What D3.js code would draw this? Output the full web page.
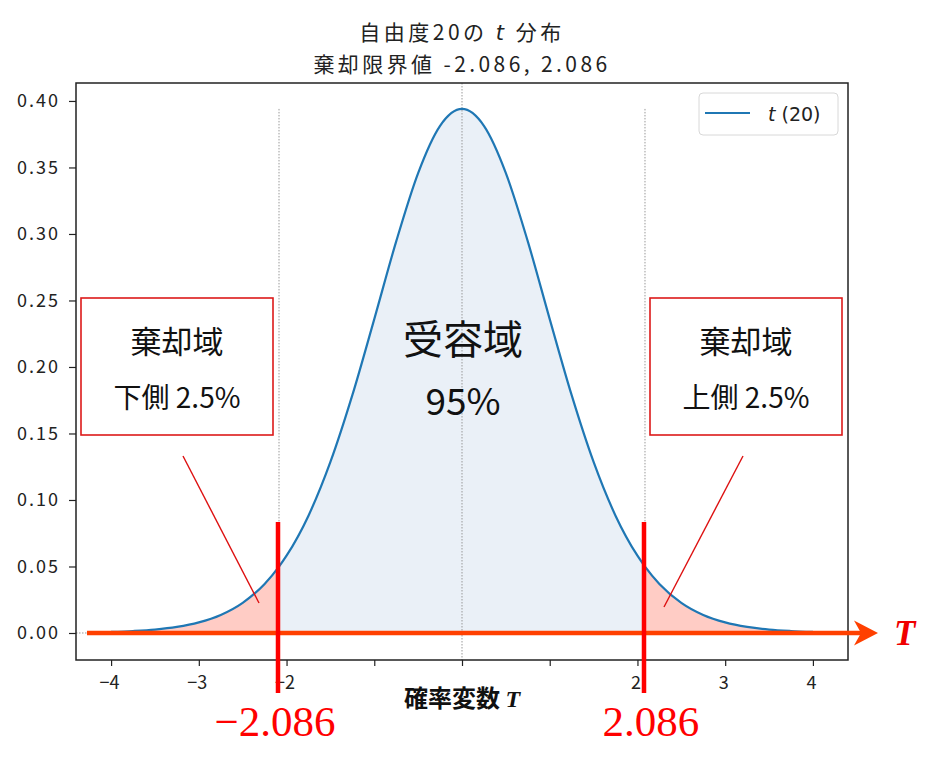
<!DOCTYPE html>
<html>
<head>
<meta charset="utf-8">
<script src="https://cdn.jsdelivr.net/npm/d3@7"></script>
<style>
  body { margin: 0; background: #fff; }
</style>
</head>
<body>
<script>
let w = 934;
let h = 776;

// t(20) density
let tValues = [-4, -3.75, -3.5, -3.25, -3, -2.75, -2.5, -2.25, -2.086, -2, -1.75, -1.5, -1.25, -1,
  -0.75, -0.5, -0.25, 0, 0.25, 0.5, 0.75, 1, 1.25, 1.5, 1.75, 2, 2.086, 2.25, 2.5, 2.75, 3,
  3.25, 3.5, 3.75, 4];
let density = [0.0008, 0.0015, 0.0026, 0.0046, 0.0080, 0.0136, 0.0227, 0.0369, 0.0499, 0.0581,
  0.0882, 0.1286, 0.1788, 0.2360, 0.2944, 0.3458, 0.3813, 0.3940, 0.3813, 0.3458, 0.2944,
  0.2360, 0.1788, 0.1286, 0.0882, 0.0581, 0.0499, 0.0369, 0.0227, 0.0136, 0.0080, 0.0046,
  0.0026, 0.0015, 0.0008];
let critical = [-2.086, 2.086];
let xTicks = [-4, -3, -2, -1, 0, 1, 2, 3, 4];
let xTickLabels = ['−4', '−3', '−2', '', '', '', '2', '3', '4'];
let yTicks = [0, 0.05, 0.10, 0.15, 0.20, 0.25, 0.30, 0.35, 0.40];
let yTickLabels = ['0.00', '0.05', '0.10', '0.15', '0.20', '0.25', '0.30', '0.35', '0.40'];

let data = tValues.map((t, i) => [t, density[i]]);

let plotLeft = 76, plotRight = 848, plotTop = 83, plotBottom = 660;
let jpFont = '"Noto Sans CJK JP", "Noto Sans", sans-serif';
let serifFont = '"Liberation Serif", "DejaVu Serif", serif';

let xScale = d3.scaleLinear().domain([-4.4, 4.4]).range([plotLeft, plotRight]);
let yScale = d3.scaleLinear().domain([-0.0203, 0.4135]).range([plotBottom, plotTop]);

let svg = d3.select('body').append('svg')
  .attr('width', w)
  .attr('height', h)
  .attr('font-family', jpFont);

// title
svg.append('text')
  .attr('x', 462).attr('y', 40)
  .attr('text-anchor', 'middle')
  .attr('font-size', 21)
  .attr('letter-spacing', 3.5)
  .attr('fill', '#222')
  .html('自由度20の <tspan font-style="italic" font-family="DejaVu Sans">t</tspan> 分布');
svg.append('text')
  .attr('x', 462).attr('y', 72)
  .attr('text-anchor', 'middle')
  .attr('font-size', 21)
  .attr('letter-spacing', 3.4)
  .attr('fill', '#222')
  .text('棄却限界値 -2.086, 2.086');

// fills
let area = d3.area()
  .x((d) => { return xScale(d[0]); })
  .y0(yScale(0))
  .y1((d) => { return yScale(d[1]); })
  .curve(d3.curveMonotoneX);

svg.append('path')
  .datum(data.filter((d) => { return d[0] >= critical[0] && d[0] <= critical[1]; }))
  .attr('d', area)
  .attr('fill', '#eaf0f7');

svg.append('path')
  .datum(data.filter((d) => { return d[0] <= critical[0]; }))
  .attr('d', area)
  .attr('fill', '#ffccc5');

svg.append('path')
  .datum(data.filter((d) => { return d[0] >= critical[1]; }))
  .attr('d', area)
  .attr('fill', '#ffccc5');

// dotted guide lines
let peak = d3.max(density);
svg.append('line')
  .attr('x1', xScale(0)).attr('x2', xScale(0))
  .attr('y1', plotTop).attr('y2', plotBottom)
  .attr('stroke', '#999').attr('stroke-width', 1).attr('stroke-dasharray', '1.5,1.5');
svg.selectAll('.crit-guide')
  .data(critical)
  .enter()
  .append('line')
  .attr('class', 'crit-guide')
  .attr('x1', (d) => { return xScale(d); })
  .attr('x2', (d) => { return xScale(d); })
  .attr('y1', yScale(peak)).attr('y2', yScale(0))
  .attr('stroke', '#999').attr('stroke-width', 1).attr('stroke-dasharray', '1.5,1.5');
svg.append('line')
  .attr('x1', plotLeft).attr('x2', plotRight)
  .attr('y1', yScale(0)).attr('y2', yScale(0))
  .attr('stroke', '#999').attr('stroke-width', 1).attr('stroke-dasharray', '1.5,1.5');

// curve
let line = d3.line()
  .x((d) => { return xScale(d[0]); })
  .y((d) => { return yScale(d[1]); })
  .curve(d3.curveMonotoneX);

svg.append('path')
  .datum(data)
  .attr('d', line)
  .attr('fill', 'none')
  .attr('stroke', '#1f77b4')
  .attr('stroke-width', 2.2);

// axes
let xAxis = d3.axisBottom(xScale)
  .tickValues(xTicks)
  .tickSize(6)
  .tickFormat((d, i) => { return xTickLabels[i]; });
let yAxis = d3.axisLeft(yScale)
  .tickValues(yTicks)
  .tickSize(7)
  .tickFormat((d, i) => { return yTickLabels[i]; });

let gx = svg.append('g')
  .attr('class', 'x axis')
  .attr('transform', 'translate(0, ' + plotBottom + ')')
  .call(xAxis);
let gy = svg.append('g')
  .attr('class', 'y axis')
  .attr('transform', 'translate(' + plotLeft + ', 0)')
  .call(yAxis);

[gx, gy].forEach((g) => {
  g.attr('font-family', jpFont).attr('font-size', 18);
  g.select('.domain').remove();
  g.selectAll('.tick line').attr('stroke', '#222').attr('stroke-width', 1.2);
  g.selectAll('.tick text').attr('fill', '#222');
});
gx.selectAll('.tick text').attr('dy', '1.1em').attr('dx', -2);
gy.selectAll('.tick text').attr('x', -16).attr('letter-spacing', 2);

// frame
svg.append('rect')
  .attr('x', plotLeft).attr('y', plotTop)
  .attr('width', plotRight - plotLeft).attr('height', plotBottom - plotTop)
  .attr('fill', 'none')
  .attr('stroke', '#222')
  .attr('stroke-width', 1.5);

// legend
let lg = svg.append('g').attr('transform', 'translate(699, 93)');
lg.append('rect')
  .attr('width', 139).attr('height', 42).attr('rx', 4)
  .attr('fill', '#fff').attr('stroke', '#d8d8d8');
lg.append('line')
  .attr('x1', 6).attr('x2', 51).attr('y1', 20).attr('y2', 20)
  .attr('stroke', '#1f77b4').attr('stroke-width', 2.2);
lg.append('text')
  .attr('x', 69).attr('y', 28)
  .attr('font-size', 19)
  .attr('font-family', '"DejaVu Sans", sans-serif')
  .attr('fill', '#222')
  .html('<tspan font-style="italic">t</tspan> (20)');

// x label
svg.append('text')
  .attr('x', 462).attr('y', 707)
  .attr('text-anchor', 'middle')
  .attr('font-size', 24)
  .attr('font-weight', 'bold')
  .attr('fill', '#111')
  .html('確率変数 <tspan font-family=\'' + serifFont + '\' font-style="italic">T</tspan>');

// T axis arrow
let arrowY = yScale(0);
svg.append('line')
  .attr('x1', 87).attr('x2', 864)
  .attr('y1', arrowY).attr('y2', arrowY)
  .attr('stroke', '#ff4000')
  .attr('stroke-width', 4.5);
svg.append('path')
  .attr('d', 'M878,' + arrowY + ' L854,' + (arrowY - 12.5) + ' L861,' + arrowY + ' L854,' + (arrowY + 12.5) + ' Z')
  .attr('fill', '#ff4000');
svg.append('text')
  .attr('x', 894).attr('y', arrowY + 12)
  .attr('font-family', serifFont)
  .attr('font-style', 'italic')
  .attr('font-weight', 'bold')
  .attr('font-size', 35)
  .attr('fill', '#f00000')
  .text('T');

// critical value markers
svg.selectAll('.crit-mark')
  .data(critical)
  .enter()
  .append('line')
  .attr('class', 'crit-mark')
  .attr('x1', (d) => { return xScale(d) - 1; })
  .attr('x2', (d) => { return xScale(d) - 1; })
  .attr('y1', yScale(0.0835))
  .attr('y2', yScale(-0.0451))
  .attr('stroke', '#ff0000')
  .attr('stroke-width', 4.5);

svg.selectAll('.crit-label')
  .data(critical)
  .enter()
  .append('text')
  .attr('class', 'crit-label')
  .attr('x', (d, i) => { return xScale(d) + (i === 0 ? -4 : 6); })
  .attr('y', 736)
  .attr('text-anchor', 'middle')
  .attr('font-family', serifFont)
  .attr('font-size', 43)
  .attr('fill', '#ff0000')
  .text((d) => { return d < 0 ? '−' + Math.abs(d).toFixed(3) : d.toFixed(3); });

// region boxes
let boxes = [
  { x: 81, line1: '棄却域', line2: '下側 2.5%', px: 183, tx: 259, ty: 603 },
  { x: 650, line1: '棄却域', line2: '上側 2.5%', px: 743, tx: 664, ty: 607 }
];
boxes.forEach((b) => {
  svg.append('line')
    .attr('x1', b.px).attr('y1', 456)
    .attr('x2', b.tx).attr('y2', b.ty)
    .attr('stroke', '#dd1010').attr('stroke-width', 1.4);
  svg.append('rect')
    .attr('x', b.x).attr('y', 298)
    .attr('width', 192).attr('height', 137)
    .attr('fill', '#fff')
    .attr('stroke', '#dd1a1a')
    .attr('stroke-width', 1.6);
  svg.append('text')
    .attr('x', b.x + 96).attr('y', 339)
    .attr('text-anchor', 'middle')
    .attr('dominant-baseline', 'central')
    .attr('font-size', 31)
    .attr('fill', '#111')
    .text(b.line1);
  svg.append('text')
    .attr('x', b.x + 96).attr('y', 396)
    .attr('text-anchor', 'middle')
    .attr('dominant-baseline', 'central')
    .attr('font-size', 28)
    .attr('fill', '#111')
    .text(b.line2);
});

// acceptance region text
svg.append('text')
  .attr('x', 463).attr('y', 337)
  .attr('text-anchor', 'middle')
  .attr('dominant-baseline', 'central')
  .attr('font-size', 40)
  .attr('fill', '#111')
  .text('受容域');
svg.append('text')
  .attr('x', 463).attr('y', 399)
  .attr('text-anchor', 'middle')
  .attr('dominant-baseline', 'central')
  .attr('font-size', 37)
  .attr('fill', '#111')
  .text('95%');
</script>
</body>
</html>
